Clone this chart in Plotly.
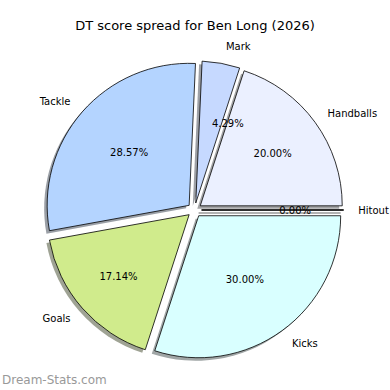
import math
import plotly.graph_objects as go

categories = ["Handballs", "Mark", "Tackle", "Goals", "Kicks", "Hitout"]
values = [20.00, 4.29, 28.57, 17.14, 30.00, 0.00]
colors = ["#ebf0ff", "#c6d9ff", "#b4d4ff", "#d0eb8c", "#d9ffff", "#e6e6fa"]
title_text = "DT score spread for Ben Long (2026)"
watermark = "Dream-Stats.com"

W = H = 390
cx, cy = 194.5, 210.0
R = 142.0
pull = 0.05
half = R * (1 + pull)
total = sum(values)
# first slice starts at 3 o'clock, counterclockwise (plotly ends the first ccw slice at `rotation`)
rotation = 90 - 360 * values[0] / total
small = [v / total < 0.05 for v in values]


def dom(scale=1.0, dx=0.0, dy=0.0):
    h = half * scale
    return dict(x=[(cx + dx - h) / W, (cx + dx + h) / W],
                y=[(H - cy - dy - h) / H, (H - cy - dy + h) / H])


def shade(c):
    r, g, b = int(c[1:3], 16), int(c[3:5], 16), int(c[5:7], 16)
    f = lambda v: int(round(0.5 * 255 + 0.5 * 0.3 * v))
    return "rgb(%d,%d,%d)" % (f(r), f(g), f(b))


common = dict(labels=categories, values=values, sort=False,
              direction="counterclockwise", rotation=rotation,
              pull=[pull] * len(values), showlegend=False, hoverinfo="skip")
clear = dict(colors=["rgba(0,0,0,0)"] * len(values), line=dict(width=0))
font10 = dict(family="DejaVu Sans", size=10, color="black")

fig = go.Figure()
# shadow
fig.add_trace(go.Pie(**common, domain=dom(dx=-3, dy=3),
                     marker=dict(colors=[shade(c) for c in colors], line=dict(width=0)),
                     textinfo="none"))
# main slices with percentages (large slices)
fig.add_trace(go.Pie(**common, domain=dom(),
                     marker=dict(colors=colors, line=dict(color="black", width=0.8)),
                     texttemplate=["" if s else "%{percent:.2%}" for s in small],
                     textposition="inside", insidetextorientation="horizontal",
                     textfont=font10))
# percentages of small slices, placed near 0.6 radius
fig.add_trace(go.Pie(**common, domain=dom(scale=0.55), marker=clear,
                     texttemplate=["%{percent:.2%}" if s else "" for s in small],
                     textposition="outside", textfont=font10))
# outside category labels
fig.add_trace(go.Pie(**common, domain=dom(scale=1.08), marker=clear,
                     texttemplate="%{label}", textposition="outside", textfont=font10))

# zero-width wedges are drawn by matplotlib as a single radial edge
shapes = []
acc = 0.0
for v in values:
    if v == 0:
        a = math.radians(360 * acc / total)
        x0 = cx + pull * R * math.cos(a)
        y0 = cy - pull * R * math.sin(a)
        x1 = cx + (1 + pull) * R * math.cos(a)
        y1 = cy - (1 + pull) * R * math.sin(a)
        shapes.append(dict(type="line", xref="paper", yref="paper",
                           x0=x0 / W - 3 / W, y0=1 - (y0 + 3) / H, x1=x1 / W - 3 / W, y1=1 - (y1 + 3) / H,
                           line=dict(color="#999999", width=1.5), layer="below"))
        shapes.append(dict(type="line", xref="paper", yref="paper",
                           x0=x0 / W, y0=1 - y0 / H, x1=x1 / W, y1=1 - y1 / H,
                           line=dict(color="black", width=1)))
    acc += v

fig.update_layout(
    width=W, height=H, margin=dict(l=0, r=0, t=0, b=0, autoexpand=False),
    paper_bgcolor="white", plot_bgcolor="white", showlegend=False,
    title=dict(text=title_text, x=0.5, xanchor="center", y=1 - 25 / H, yanchor="middle",
               font=dict(family="DejaVu Sans", size=13, color="black")),
    annotations=[dict(text=watermark, xref="paper", yref="paper", x=0, y=1 - 380 / H,
                      xanchor="left", yanchor="middle", showarrow=False,
                      font=dict(family="DejaVu Sans", size=12, color="#999999"))],
    shapes=shapes,
)
fig.write_html("out.html", config={"displayModeBar": False},
               post_script="document.body.style.margin='0';document.documentElement.style.overflow='hidden';")
